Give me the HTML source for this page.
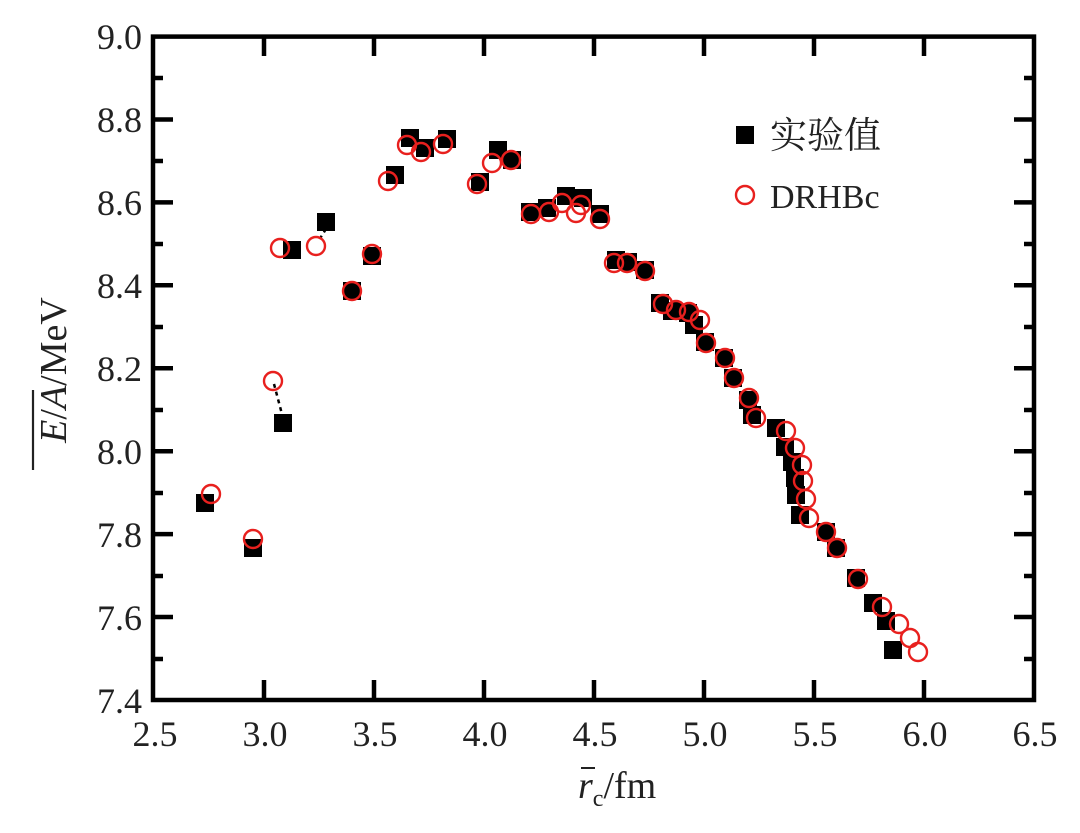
<!DOCTYPE html>
<html><head><meta charset="utf-8"><style>
body{margin:0;background:#fff}
svg{display:block;font-family:"Liberation Serif","Noto Serif CJK SC",serif}
</style></head><body>
<svg width="1080" height="833" viewBox="0 0 1080 833" xmlns="http://www.w3.org/2000/svg">
<defs>
<rect id="s" x="-9" y="-9" width="18" height="18" fill="#000"/>
<circle id="c" r="9" fill="none" stroke="#e8201e" stroke-width="2.4"/>
</defs>
<g stroke="#000" stroke-width="4.5" fill="none">
<rect x="153" y="36.6" width="881" height="663.4"/>
</g>
<g stroke="#000" stroke-width="4.5">
<path d="M264 700v-20M374 700v-20M484 700v-20M594 700v-20M704 700v-20M814 700v-20M924 700v-20M264 36v20M374 36v20M484 36v20M594 36v20M704 36v20M814 36v20M924 36v20"/>
<path d="M153 119.5h20M153 202.4h20M153 285.3h20M153 368.3h20M153 451.2h20M153 534.1h20M153 617h20M1034 119.5h-20M1034 202.4h-20M1034 285.3h-20M1034 368.3h-20M1034 451.2h-20M1034 534.1h-20M1034 617h-20"/>
<path d="M153 78h10M153 161h10M153 244h10M153 327h10M153 410h10M153 493h10M153 576h10M153 659h10M1034 78h-10M1034 161h-10M1034 244h-10M1034 327h-10M1034 410h-10M1034 493h-10M1034 576h-10M1034 659h-10"/>
</g>
<g font-size="36" fill="#222" text-anchor="middle">
<text x="155" y="746">2.5</text><text x="265" y="746">3.0</text><text x="375" y="746">3.5</text><text x="485" y="746">4.0</text><text x="595" y="746">4.5</text><text x="705" y="746">5.0</text><text x="815" y="746">5.5</text><text x="925" y="746">6.0</text><text x="1035" y="746">6.5</text>
</g>
<g font-size="36" fill="#222" text-anchor="end">
<text x="142" y="49">9.0</text><text x="142" y="132">8.8</text><text x="142" y="215">8.6</text><text x="142" y="298">8.4</text><text x="142" y="381">8.2</text><text x="142" y="464">8.0</text><text x="142" y="547">7.8</text><text x="142" y="630">7.6</text><text x="142" y="713">7.4</text>
</g>
<g font-size="38" fill="#222">
<text x="578" y="798"><tspan font-style="italic">r</tspan><tspan font-size="24" dy="8">c</tspan><tspan dy="-8">/fm</tspan></text>
<path d="M581 768h14" stroke="#222" stroke-width="2"/>
<g transform="translate(66 370) rotate(-90)">
<text x="0" y="0" text-anchor="middle"><tspan font-style="italic">E</tspan>/<tspan font-style="italic">A</tspan>/MeV</text>
<path d="M-100 -33h80" stroke="#222" stroke-width="2.2"/>
</g>
</g>
<use href="#s" x="745" y="135"/>
<text x="770" y="148" font-size="37" fill="#222">实验值</text>
<use href="#c" x="745" y="195"/>
<text x="770" y="208" font-size="34" fill="#222">DRHBc</text>
<path d="M274 384L283 418M326 229L319 240" stroke="#000" stroke-width="2.5" stroke-dasharray="4 4"/>
<g>
<use href="#s" x="205" y="503"/><use href="#s" x="253" y="548"/><use href="#s" x="283" y="423"/><use href="#s" x="292" y="250"/><use href="#s" x="326" y="222"/><use href="#s" x="352" y="291"/><use href="#s" x="372" y="256"/><use href="#s" x="395" y="175"/><use href="#s" x="410" y="138"/><use href="#s" x="425" y="148"/><use href="#s" x="447" y="139"/><use href="#s" x="480" y="182"/><use href="#s" x="498" y="150"/><use href="#s" x="512" y="160"/><use href="#s" x="530" y="212"/><use href="#s" x="547" y="208"/><use href="#s" x="566" y="196"/><use href="#s" x="583" y="198"/><use href="#s" x="600" y="214"/><use href="#s" x="616" y="260"/><use href="#s" x="628" y="262"/><use href="#s" x="645" y="270"/><use href="#s" x="660" y="303"/><use href="#s" x="672" y="311"/><use href="#s" x="688" y="313"/><use href="#s" x="694" y="325"/><use href="#s" x="705" y="342"/><use href="#s" x="724" y="358"/><use href="#s" x="733" y="378"/><use href="#s" x="748" y="400"/><use href="#s" x="752" y="415"/><use href="#s" x="776" y="428"/><use href="#s" x="785" y="447"/><use href="#s" x="792" y="462"/><use href="#s" x="795" y="478"/><use href="#s" x="796" y="495"/><use href="#s" x="800" y="515"/><use href="#s" x="826" y="532"/><use href="#s" x="836" y="548"/><use href="#s" x="856" y="578"/><use href="#s" x="873" y="603"/><use href="#s" x="886" y="621"/><use href="#s" x="893" y="650"/>
</g>
<g>
<use href="#c" x="211" y="494"/><use href="#c" x="253" y="539"/><use href="#c" x="273" y="381"/><use href="#c" x="280" y="248"/><use href="#c" x="316" y="246"/><use href="#c" x="352" y="291"/><use href="#c" x="372" y="254"/><use href="#c" x="388" y="181"/><use href="#c" x="407" y="145"/><use href="#c" x="421" y="152"/><use href="#c" x="443" y="144"/><use href="#c" x="477" y="184"/><use href="#c" x="492" y="163"/><use href="#c" x="511" y="160"/><use href="#c" x="531" y="214"/><use href="#c" x="549" y="212"/><use href="#c" x="562" y="203"/><use href="#c" x="576" y="213"/><use href="#c" x="581" y="205"/><use href="#c" x="600" y="219"/><use href="#c" x="614" y="263"/><use href="#c" x="627" y="263"/><use href="#c" x="645" y="271"/><use href="#c" x="663" y="304"/><use href="#c" x="676" y="310"/><use href="#c" x="689" y="312"/><use href="#c" x="700" y="320"/><use href="#c" x="706" y="343"/><use href="#c" x="725" y="358"/><use href="#c" x="734" y="378"/><use href="#c" x="749" y="398"/><use href="#c" x="756" y="418"/><use href="#c" x="786" y="431"/><use href="#c" x="795" y="448"/><use href="#c" x="802" y="465"/><use href="#c" x="803" y="481"/><use href="#c" x="806" y="499"/><use href="#c" x="809" y="518"/><use href="#c" x="826" y="532"/><use href="#c" x="837" y="548"/><use href="#c" x="858" y="579"/><use href="#c" x="882" y="607"/><use href="#c" x="899" y="624"/><use href="#c" x="910" y="638"/><use href="#c" x="918" y="652"/>
</g>
</svg>
</body></html>
